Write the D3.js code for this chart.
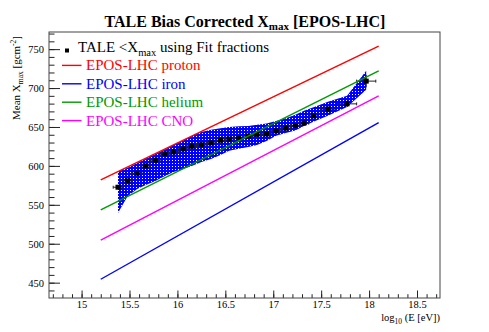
<!DOCTYPE html>
<html>
<head>
  <meta charset="utf-8" />
  <title>TALE Bias Corrected Xmax [EPOS-LHC]</title>
  <script src="https://cdnjs.cloudflare.com/ajax/libs/d3/7.8.5/d3.min.js"></script>
  <style>
    body { margin: 0; background: #fff; }
    text { font-family: "Liberation Serif", "Times New Roman", serif; }
  </style>
</head>
<body>
  <div id="chart"></div>

  <script>
    // TALE points (log10 E, mean Xmax, half bin width, Xmax error)
    var logE = [15.38, 15.48, 15.58, 15.67, 15.77, 15.87, 15.96, 16.06, 16.15, 16.25,
                16.35, 16.45, 16.54, 16.64, 16.74, 16.83, 16.93, 17.03, 17.13, 17.23,
                17.32, 17.42, 17.57, 17.77, 17.97];
    var meanXmax = [572.6, 580.7, 590.6, 600.0, 607.3, 615.4, 618.0, 621.9, 625.3, 627.0,
                    629.6, 633.0, 634.5, 636.0, 638.2, 640.5, 641.1, 645.0, 648.5, 651.7,
                    654.9, 664.3, 672.9, 679.7, 708.9];
    var halfBin = [0.05, 0.05, 0.05, 0.05, 0.05, 0.05, 0.05, 0.05, 0.05, 0.05,
                   0.05, 0.05, 0.05, 0.05, 0.05, 0.05, 0.05, 0.05, 0.05, 0.05,
                   0.05, 0.045, 0.078, 0.1, 0.1];
    var xmaxErr = [2, 2, 2, 2, 2, 2, 2, 2, 2, 2,
                   2, 2, 2, 2, 2, 2, 2, 2, 2, 2,
                   2, 3, 4, 4, 8];

    // systematic band edges, one value per point
    var bandHi = [592.9, 597.6, 603.7, 609.5, 615.4, 621.1, 626.7, 632.6, 638.3, 643.7,
                  646.3, 648.2, 650.1, 650.8, 651.4, 652.7, 654.6, 657.8, 661.1, 665.6,
                  670.7, 675.2, 682.3, 690.0, 722.1];
    var bandLo = [539.6, 561.0, 570.4, 575.6, 580.7, 587.1, 592.3, 596.1, 600.0, 605.1,
                  609.0, 614.0, 619.3, 621.9, 624.4, 627.0, 632.1, 638.6, 642.4, 645.6,
                  651.4, 656.6, 664.3, 675.8, 697.7];

    // EPOS-LHC predictions
    var modelE = [15.2, 18.1];
    var proton = [582, 754];
    var iron = [454.4, 655.6];
    var helium = [543.4, 722];
    var cno = [504.8, 690];

    var xTicks = [15, 15.5, 16, 16.5, 17, 17.5, 18, 18.5];
    var yTicks = [450, 500, 550, 600, 650, 700, 750];

    var width = 489, height = 332;
    var frameL = 49, frameR = 440, frameT = 32, frameB = 298;

    var svg = d3.select("#chart")
      .append("svg")
      .attr("width", width)
      .attr("height", height);

    var x = d3.scaleLinear().domain([14.66, 18.74]).range([frameL, frameR]);
    var y = d3.scaleLinear().domain([430.3, 772]).range([frameB, frameT]);

    // fill pattern for the band
    var pat = svg.append("defs").append("pattern")
      .attr("id", "hatch")
      .attr("patternUnits", "userSpaceOnUse")
      .attr("width", 3)
      .attr("height", 3);
    pat.append("rect").attr("width", 3).attr("height", 3).attr("fill", "#0000ff");
    pat.append("rect").attr("x", 1).attr("y", 1).attr("width", 1).attr("height", 1).attr("fill", "#ffffff");

    var band = logE.map(function(e, i) { return {e: e, lo: bandLo[i], hi: bandHi[i]}; });
    svg.append("path")
      .datum(band)
      .attr("fill", "url(#hatch)")
      .attr("d", d3.area()
        .x(function(d) { return x(d.e); })
        .y0(function(d) { return y(d.lo); })
        .y1(function(d) { return y(d.hi); }));

    // error bars and markers
    var pts = logE.map(function(e, i) {
      return {e: e, v: meanXmax[i], dx: halfBin[i], dy: xmaxErr[i]};
    });

    var bars = svg.append("g").attr("stroke", "#222").attr("stroke-width", 1);
    pts.forEach(function(d) {
      bars.append("line")
        .attr("x1", x(d.e - d.dx)).attr("x2", x(d.e + d.dx))
        .attr("y1", y(d.v)).attr("y2", y(d.v));
      bars.append("line")
        .attr("x1", x(d.e)).attr("x2", x(d.e))
        .attr("y1", y(d.v - d.dy)).attr("y2", y(d.v + d.dy));
      [d.e - d.dx, d.e + d.dx].forEach(function(c) {
        bars.append("line")
          .attr("x1", x(c)).attr("x2", x(c))
          .attr("y1", y(d.v) - 1.5).attr("y2", y(d.v) + 1.5);
      });
    });

    svg.selectAll(".pt")
      .data(pts)
      .enter().append("rect")
      .attr("class", "pt")
      .attr("x", function(d) { return x(d.e) - 2.5; })
      .attr("y", function(d) { return y(d.v) - 2.5; })
      .attr("width", 5)
      .attr("height", 5)
      .attr("fill", "#000");

    // model lines
    var models = [
      {name: "EPOS-LHC proton", vals: proton, color: "#ff0000"},
      {name: "EPOS-LHC iron", vals: iron, color: "#0000ff"},
      {name: "EPOS-LHC helium", vals: helium, color: "#009a00"},
      {name: "EPOS-LHC CNO", vals: cno, color: "#ff00ff"}
    ];

    var line = d3.line()
      .x(function(d) { return x(d[0]); })
      .y(function(d) { return y(d[1]); });

    models.forEach(function(m) {
      svg.append("path")
        .datum(modelE.map(function(e, i) { return [e, m.vals[i]]; }))
        .attr("fill", "none")
        .attr("stroke", m.color)
        .attr("stroke-width", 1.4)
        .attr("d", line);
    });

    // axes (ROOT style, ticks inside)
    var xMinor = d3.range(147, 188).map(function(v) { return v / 10; });
    var yMinor = d3.range(44, 78).map(function(v) { return v * 10; });

    svg.append("g")
      .attr("transform", "translate(0," + frameB + ")")
      .call(d3.axisBottom(x).tickValues(xMinor).tickSize(-3.8).tickFormat(""))
      .call(function(g) { g.select(".domain").remove(); });

    var gx = svg.append("g")
      .attr("transform", "translate(0," + frameB + ")")
      .call(d3.axisBottom(x).tickValues(xTicks).tickSize(-7.5).tickPadding(3)
        .tickFormat(function(d) { return d; }));
    gx.select(".domain").remove();
    gx.selectAll("text").attr("font-size", 10.5).attr("font-family", "Liberation Serif").attr("fill", "#000");

    svg.append("g")
      .attr("transform", "translate(" + frameL + ",0)")
      .call(d3.axisLeft(y).tickValues(yMinor).tickSize(-5.5).tickFormat(""))
      .call(function(g) { g.select(".domain").remove(); });

    var gy = svg.append("g")
      .attr("transform", "translate(" + frameL + ",0)")
      .call(d3.axisLeft(y).tickValues(yTicks).tickSize(-11).tickPadding(5));
    gy.select(".domain").remove();
    gy.selectAll("text").attr("font-size", 10.5).attr("font-family", "Liberation Serif").attr("fill", "#000");

    svg.selectAll(".tick line").attr("stroke", "#222");

    // frame
    svg.append("rect")
      .attr("x", frameL).attr("y", frameT)
      .attr("width", frameR - frameL).attr("height", frameB - frameT)
      .attr("fill", "none")
      .attr("stroke", "#444")
      .attr("stroke-width", 1);

    // title
    var title = svg.append("text")
      .attr("x", 245).attr("y", 26.5)
      .attr("text-anchor", "middle")
      .attr("font-size", 16)
      .attr("font-weight", "bold");
    title.append("tspan").text("TALE Bias Corrected X");
    title.append("tspan").attr("dy", 3.5).attr("font-size", 11).text("max");
    title.append("tspan").attr("dy", -3.5).text(" [EPOS-LHC]");

    // axis titles
    var xt = svg.append("text")
      .attr("x", frameR).attr("y", 321)
      .attr("text-anchor", "end")
      .attr("font-size", 10.5);
    xt.append("tspan").text("log");
    xt.append("tspan").attr("dy", 3).attr("font-size", 7.5).text("10");
    xt.append("tspan").attr("dy", -3).text(" (E [eV])");

    var yt = svg.append("text")
      .attr("transform", "translate(20,36) rotate(-90)")
      .attr("text-anchor", "end")
      .attr("font-size", 11);
    yt.append("tspan").text("Mean X");
    yt.append("tspan").attr("dy", 3).attr("font-size", 7.5).text("max");
    yt.append("tspan").attr("dy", -3).text(" [gcm");
    yt.append("tspan").attr("dy", -4).attr("font-size", 7.5).text("-2");
    yt.append("tspan").attr("dy", 4).text("]");

    // legend
    var lgBase = 52, lgStep = 18.4;
    svg.append("rect")
      .attr("x", 65).attr("y", lgBase - 3.5)
      .attr("width", 4).attr("height", 4)
      .attr("fill", "#000");
    var lt = svg.append("text")
      .attr("x", 78).attr("y", lgBase)
      .attr("font-size", 15);
    lt.append("tspan").text("TALE <X");
    lt.append("tspan").attr("dy", 3.5).attr("font-size", 10.5).text("max");
    lt.append("tspan").attr("dy", -3.5).text(" using Fit fractions");

    models.forEach(function(m, i) {
      var by = lgBase + lgStep * (i + 1);
      svg.append("line")
        .attr("x1", 62).attr("x2", 81.5)
        .attr("y1", by - 5).attr("y2", by - 5)
        .attr("stroke", m.color)
        .attr("stroke-width", 1.4);
      svg.append("text")
        .attr("x", 86).attr("y", by)
        .attr("font-size", 15)
        .attr("fill", m.color)
        .text(m.name);
    });
  </script>
</body>
</html>
